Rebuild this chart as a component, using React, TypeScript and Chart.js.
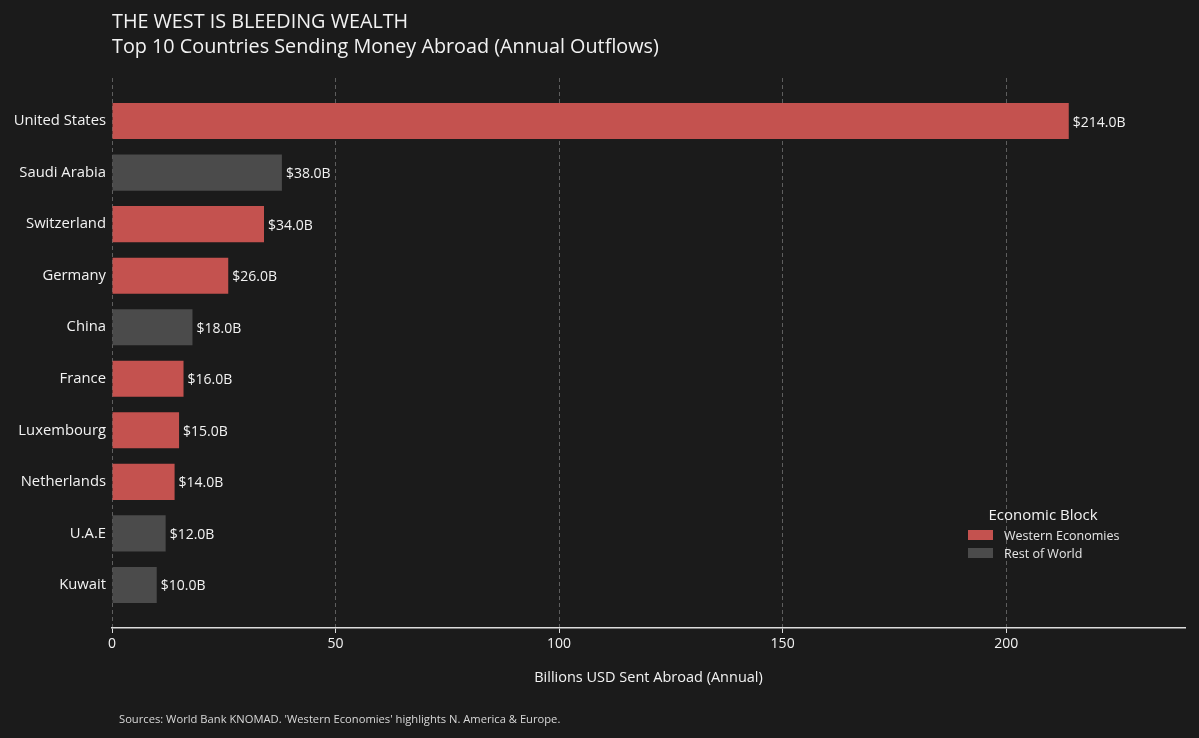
import React, { useEffect, useRef } from "react";
import { Chart, registerables } from "chart.js";

Chart.register(...registerables);

const countries = [
  "United States",
  "Saudi Arabia",
  "Switzerland",
  "Germany",
  "China",
  "France",
  "Luxembourg",
  "Netherlands",
  "U.A.E",
  "Kuwait",
];
const outflows = [214, 38, 34, 26, 18, 16, 15, 14, 12, 10];
const blocks = ["W", "R", "W", "W", "R", "W", "W", "W", "R", "R"];
const blockNames = ["Western Economies", "Rest of World"];
const xTicks = [0, 50, 100, 150, 200];

const TITLE = "THE WEST IS BLEEDING WEALTH";
const SUBTITLE = "Top 10 Countries Sending Money Abroad (Annual Outflows)";
const XTITLE = "Billions USD Sent Abroad (Annual)";
const FOOT = "Sources: World Bank KNOMAD. 'Western Economies' highlights N. America & Europe.";
const LEGEND_TITLE = "Economic Block";

const RED = "#C4524F";
const GRAY = "#4B4B4B";
const BG = "#1B1B1B";
const TXT = "#F2F2F2";
const FONT = "'Open Sans', Lato, sans-serif";

export default function App() {
  const ref = useRef<HTMLCanvasElement | null>(null);
  useEffect(() => {
    document.body.style.margin = "0";
    document.body.style.background = BG;
    const canvas = ref.current!;
    const overlay = {
      id: "overlay",
      afterDraw(chart: any) {
        const ctx = chart.ctx as CanvasRenderingContext2D;
        ctx.save();
        ctx.fillStyle = TXT;
        ctx.textBaseline = "middle";
        ctx.textAlign = "left";
        ctx.font = `19.8px ${FONT}`;
        ctx.fillText(TITLE, 112, 22);
        ctx.fillText(SUBTITLE, 112, 47);
        // value labels
        const meta = chart.getDatasetMeta(0);
        ctx.font = `14px ${FONT}`;
        meta.data.forEach((bar: any, i: number) => {
          ctx.fillText(`$${outflows[i].toFixed(1)}B`, bar.x + 4, bar.y + 1.5);
        });
        // footnote
        ctx.font = `11.2px ${FONT}`;
        ctx.fillStyle = "#D8D8D8";
        ctx.fillText(FOOT, 119, 720);
        // legend
        ctx.fillStyle = TXT;
        ctx.font = `15px ${FONT}`;
        ctx.textAlign = "center";
        ctx.fillText(LEGEND_TITLE, 1043, 516);
        ctx.textAlign = "left";
        ctx.font = `12.5px ${FONT}`;
        [RED, GRAY].forEach((c, k) => {
          const y = 535 + k * 18;
          ctx.fillStyle = c;
          ctx.fillRect(968, y - 5, 25, 10);
          ctx.fillStyle = "#E6E6E6";
          ctx.fillText(blockNames[k], 1004, y + 1);
        });
        ctx.restore();
      },
    };
    const chart = new Chart(canvas, {
      type: "bar",
      data: {
        datasets: [
          {
            data: outflows.map((v, i) => ({ x: v, y: i })),
            backgroundColor: blocks.map((b) => (b === "W" ? RED : GRAY)),
            borderWidth: 0,
            barPercentage: 0.7,
            categoryPercentage: 1,
          },
        ],
      },
      options: {
        indexAxis: "y",
        animation: false,
        responsive: false,
        devicePixelRatio: 1,
        layout: { padding: { top: 78, right: 14, left: 0, bottom: 0 } },
        plugins: { legend: { display: false }, tooltip: { enabled: false } },
        scales: {
          x: {
            type: "linear",
            min: 0,
            max: 240,
            afterFit: (s: any) => {
              s.height = 110;
            },
            afterBuildTicks: (s: any) => {
              s.ticks = xTicks.map((v) => ({ value: v }));
            },
            ticks: { color: TXT, font: { family: FONT, size: 14 }, padding: 3 },
            grid: {
              color: "#5E5E5E",
              lineWidth: 1,
              tickLength: 5,
              tickColor: "#DDDDDD",
            },
            border: { display: true, color: "#DDDDDD", width: 1.5, dash: [4, 3] },
            title: {
              display: true,
              text: XTITLE,
              color: TXT,
              font: { family: FONT, size: 14.5 },
              padding: { top: 4, bottom: 51 },
            },
          },
          y: {
            type: "linear",
            min: -0.835,
            max: 9.835,
            offset: false,
            bounds: "data",
            grace: 0,
            reverse: true,
            afterFit: (s: any) => {
              s.width = 112;
            },
            afterBuildTicks: (s: any) => {
              s.ticks = countries.map((_, i) => ({ value: i }));
            },
            ticks: {
              color: TXT,
              font: { family: FONT, size: 14.8 },
              padding: 6,
              callback: (v: any) => countries[v as number] ?? "",
            },
            grid: { display: false, drawTicks: false, offset: false },
            border: { display: false },
          },
        },
      },
      plugins: [overlay],
    } as any);
    return () => chart.destroy();
  }, []);
  return (
    <div style={{ width: 1199, height: 738, background: BG }}>
      <canvas ref={ref} width={1199} height={738} style={{ display: "block" }} />
    </div>
  );
}
